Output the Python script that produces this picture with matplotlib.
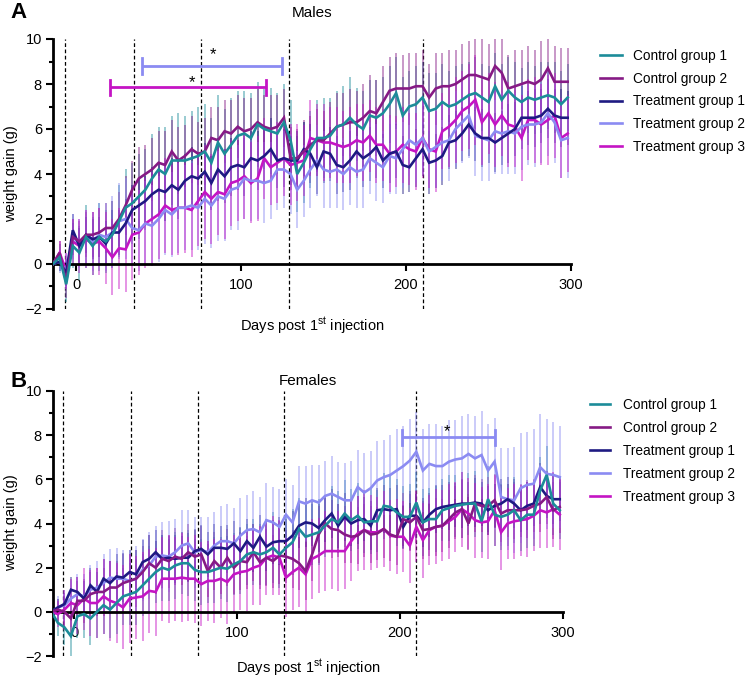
import numpy as np
import matplotlib
matplotlib.use("Agg")
import matplotlib.pyplot as plt
from matplotlib.lines import Line2D

plt.rcParams['font.family'] = ['Liberation Sans', 'DejaVu Sans']
plt.rcParams['mathtext.fontset'] = 'custom'
plt.rcParams['mathtext.rm'] = 'Liberation Sans'
plt.rcParams['mathtext.it'] = 'Liberation Sans:italic'
plt.rcParams['mathtext.bf'] = 'Liberation Sans:bold'

# ---------------- data ----------------
days = [-14, -10, -6, -2, 2, 6, 10, 14, 18, 22,
        26, 30, 34, 38, 42, 46, 50, 54, 58, 62,
        66, 70, 74, 78, 82, 86, 90, 94, 98, 102,
        106, 110, 114, 118, 122, 126, 130, 134, 138, 142,
        146, 150, 154, 158, 162, 166, 170, 174, 178, 182,
        186, 190, 194, 198, 202, 206, 210, 214, 218, 222,
        226, 230, 234, 238, 242, 246, 250, 254, 258, 262,
        266, 270, 274, 278, 282, 286, 290, 294, 298]

groups = ["Control group 1", "Control group 2", "Treatment group 1",
          "Treatment group 2", "Treatment group 3"]
colors = ["#1C8C99", "#861A85", "#1E1A82", "#8B8BF2", "#C414C4"]
injection_days = [-7, 35, 76, 129, 210]

# Males (panel A)
males_c1 = [0, 0.3, -0.9, 0.8, 0.5, 1.2, 0.8, 1.2, 1.0, 1.3,
            1.9, 2.5, 2.7, 3.0, 3.3, 3.8, 4.2, 4.0, 4.6, 4.6,
            4.6, 4.7, 4.8, 5.0, 4.5, 5.4, 4.9, 5.3, 5.7, 5.8,
            5.6, 6.2, 6.0, 5.9, 5.8, 6.3, 5.5, 4.0, 4.5, 5.1,
            5.6, 5.6, 5.7, 6.1, 6.2, 6.5, 6.2, 6.0, 6.6, 6.5,
            6.7, 7.1, 7.6, 6.6, 7.0, 7.1, 7.4, 6.8, 6.9, 7.2,
            7.0, 7.1, 7.3, 7.5, 7.6, 7.4, 7.2, 7.9, 7.3, 7.7,
            7.4, 7.2, 7.4, 7.3, 7.4, 7.5, 7.4, 7.1, 7.4]
males_c2 = [0, 0.5, -0.8, 1.2, 1.0, 1.3, 1.3, 1.4, 1.6, 1.6,
            2.0, 2.6, 3.3, 3.8, 4.0, 4.2, 4.5, 4.4, 5.0, 4.6,
            4.8, 5.1, 4.9, 5.0, 5.6, 5.5, 5.9, 5.8, 6.1, 5.9,
            6.0, 6.3, 6.1, 6.0, 6.1, 6.5, 4.7, 4.7, 5.0, 5.3,
            5.5, 5.5, 5.8, 6.1, 6.2, 6.3, 6.3, 6.5, 6.8, 6.7,
            7.2, 7.7, 7.8, 7.8, 7.8, 7.9, 7.9, 7.4, 7.8, 7.9,
            7.9, 8.0, 8.2, 8.4, 8.4, 8.3, 8.2, 8.8, 8.5, 7.8,
            7.9, 8.0, 8.1, 8.0, 8.2, 8.7, 8.1, 8.1, 8.1]
males_t1 = [0, 0.1, -0.4, 1.5, 0.8, 1.3, 1.1, 1.2, 0.9, 1.4,
            1.4, 1.8, 2.4, 2.6, 2.8, 3.1, 3.3, 3.2, 3.5, 3.3,
            3.7, 3.9, 3.8, 4.1, 3.6, 4.2, 3.9, 4.3, 4.4, 4.3,
            4.7, 4.6, 4.8, 5.1, 4.6, 4.7, 4.6, 4.6, 5.1, 4.9,
            4.3, 5.0, 4.9, 4.4, 4.3, 4.6, 5.0, 4.7, 4.9, 5.2,
            4.6, 4.9, 5.0, 4.4, 4.3, 4.7, 5.1, 4.5, 4.6, 4.8,
            5.4, 5.5, 5.8, 6.2, 5.8, 5.6, 5.6, 5.4, 5.6, 5.8,
            6.0, 6.5, 6.5, 6.5, 6.6, 6.9, 6.6, 6.5, 6.5]
males_t2 = [0, 0.1, -0.3, 1.2, 0.9, 1.2, 1.0, 1.3, 1.2, 1.4,
            1.9, 2.0, 1.6, 1.5, 1.8, 1.7, 2.0, 2.4, 2.2, 2.5,
            2.5, 2.6, 2.5, 2.9, 2.6, 3.0, 2.9, 3.3, 3.4, 3.8,
            3.7, 3.7, 3.6, 3.7, 4.2, 4.2, 4.0, 3.3, 3.7, 4.2,
            4.6, 4.2, 4.1, 4.2, 4.0, 4.3, 4.1, 4.2, 4.7, 4.5,
            4.3, 4.8, 4.7, 5.1, 5.5, 5.3, 5.6, 5.0, 5.2, 5.4,
            5.5, 6.0, 6.3, 6.6, 5.7, 5.6, 5.5, 5.9, 5.8, 5.9,
            5.8, 6.1, 6.2, 6.2, 6.3, 6.7, 6.3, 5.5, 5.6]
males_t3 = [0, 0.5, -0.3, 1.0, 0.8, 1.1, 0.9, 1.0, 0.7, 0.3,
            0.7, 0.65, 1.3, 1.4, 1.8, 2.0, 2.2, 2.6, 2.4, 2.5,
            2.5, 2.4, 2.8, 3.2, 2.9, 3.2, 3.1, 3.6, 3.7, 3.9,
            3.6, 3.8, 4.7, 4.3, 4.5, 4.7, 4.4, 4.5, 4.6, 5.6,
            5.5, 5.4, 5.4, 5.3, 5.2, 5.3, 5.5, 5.4, 5.7, 5.3,
            5.3, 4.9, 5.0, 5.3, 5.1, 5.0, 5.6, 5.1, 5.0, 5.9,
            6.1, 6.4, 6.8, 7.0, 7.3, 6.3, 6.7, 6.2, 6.6, 6.2,
            6.1, 5.6, 6.4, 6.4, 6.2, 6.4, 6.6, 5.6, 5.8]

males_c1_err = [0.3, 0.6, 0.8, 1.0, 1.2, 1.4, 1.3, 1.5, 1.4, 1.5,
                1.6, 1.7, 1.8, 1.9, 1.8, 2.0, 1.9, 2.1, 2.0, 2.1,
                2.0, 2.1, 2.2, 2.1, 2.0, 2.1, 2.0, 2.1, 2.0, 1.9,
                2.0, 1.9, 1.8, 1.9, 1.8, 1.7, 1.8, 1.7, 1.8, 1.7,
                1.7, 1.8, 1.7, 1.6, 1.7, 1.8, 1.6, 1.7, 1.6, 1.7,
                1.6, 1.7, 1.6, 1.7, 1.6, 1.7, 1.6, 1.7, 1.6, 1.7,
                1.6, 1.7, 1.6, 1.5, 1.6, 1.5, 1.6, 1.5, 1.6, 1.5,
                1.6, 1.5, 1.6, 1.5, 1.6, 1.5, 1.6, 1.5, 1.5]
males_c2_err = [0.3, 0.5, 0.7, 0.8, 0.9, 1.0, 1.0, 1.1, 1.1, 1.2,
                1.2, 1.3, 1.3, 1.4, 1.3, 1.4, 1.4, 1.5, 1.4, 1.5,
                1.4, 1.5, 1.4, 1.5, 1.4, 1.5, 1.4, 1.5, 1.4, 1.5,
                1.4, 1.5, 1.4, 1.5, 1.4, 1.3, 1.4, 1.3, 1.4, 1.3,
                1.4, 1.3, 1.4, 1.5, 1.4, 1.5, 1.4, 1.5, 1.6, 1.5,
                1.6, 1.5, 1.6, 1.5, 1.6, 1.5, 1.6, 1.5, 1.6, 1.5,
                1.6, 1.5, 1.6, 1.5, 1.6, 1.7, 1.6, 1.5, 1.6, 1.5,
                1.6, 1.5, 1.6, 1.5, 1.7, 1.3, 1.6, 1.5, 1.5]
males_t1_err = [0.3, 0.4, 0.6, 0.7, 0.8, 0.8, 0.9, 0.9, 1.0, 1.0,
                1.0, 1.1, 1.1, 1.2, 1.1, 1.2, 1.2, 1.3, 1.2, 1.3,
                1.2, 1.3, 1.1, 1.3, 1.2, 1.4, 1.2, 1.3, 1.1, 1.3,
                1.2, 1.3, 1.2, 1.4, 1.2, 1.3, 1.1, 1.3, 1.2, 1.3,
                1.2, 1.4, 1.2, 1.3, 1.1, 1.3, 1.2, 1.3, 1.2, 1.4,
                1.2, 1.3, 1.2, 1.3, 1.1, 1.3, 1.2, 1.4, 1.2, 1.3,
                1.2, 1.3, 1.2, 1.4, 1.2, 1.3, 1.1, 1.3, 1.2, 1.3,
                1.2, 1.4, 1.2, 1.3, 1.2, 1.3, 1.2, 1.3, 1.2]
males_t2_err = [0.3, 0.5, 0.8, 1.0, 1.1, 1.2, 1.3, 1.4, 1.5, 1.6,
                1.7, 1.8, 1.7, 1.8, 1.9, 1.8, 1.9, 2.0, 1.9, 2.0,
                1.9, 2.0, 1.9, 2.0, 1.9, 2.0, 1.9, 1.8, 1.9, 1.8,
                1.8, 1.7, 1.8, 1.7, 1.8, 1.7, 1.8, 1.7, 1.6, 1.7,
                1.6, 1.7, 1.6, 1.7, 1.6, 1.7, 1.6, 1.7, 1.6, 1.7,
                1.6, 1.7, 1.6, 1.7, 1.6, 1.7, 1.6, 1.7, 1.8, 1.7,
                1.8, 1.7, 1.8, 1.9, 1.8, 1.9, 1.8, 1.9, 1.8, 1.9,
                1.8, 1.9, 1.8, 1.9, 1.8, 1.9, 1.8, 1.7, 1.8]
males_t3_err = [0.3, 0.5, 0.8, 1.0, 1.2, 1.3, 1.4, 1.5, 1.6, 1.7,
                1.8, 1.9, 2.0, 1.9, 2.0, 2.1, 2.0, 2.1, 2.0, 2.1,
                2.0, 2.1, 2.0, 2.1, 2.0, 1.9, 2.0, 1.9, 1.8, 1.9,
                1.8, 1.9, 1.8, 1.7, 1.8, 1.7, 1.8, 1.7, 1.6, 1.7,
                1.6, 1.7, 1.6, 1.7, 1.6, 1.7, 1.6, 1.7, 1.6, 1.7,
                1.6, 1.7, 1.6, 1.7, 1.6, 1.7, 1.8, 1.7, 1.8, 1.7,
                1.8, 1.9, 1.8, 1.9, 2.0, 1.9, 1.8, 1.9, 1.8, 1.9,
                1.8, 1.9, 1.8, 1.9, 1.8, 2.0, 1.9, 1.8, 1.7]

# Females (panel B)
females_c1 = [0, -0.5, -0.7, -1.1, -0.2, -0.1, -0.3, 0.0, 0.3, 0.1,
              0.4, 0.7, 0.8, 0.9, 1.2, 1.5, 1.8, 2.0, 1.9, 2.1,
              2.2, 2.2, 1.9, 1.8, 1.8, 1.9, 2.0, 1.95, 2.15, 2.3,
              2.6, 2.7, 2.6, 2.7, 2.9, 2.6, 2.9, 3.15, 3.75, 3.4,
              3.5, 3.6, 3.9, 4.2, 4.05, 4.45, 4.15, 4.35, 4.05, 4.1,
              4.1, 4.8, 4.75, 4.5, 4.3, 4.3, 4.95, 4.05, 4.2, 4.2,
              4.6, 4.7, 4.8, 4.85, 4.9, 4.9, 4.1, 5.1, 4.4, 4.3,
              4.4, 4.6, 4.15, 4.4, 4.4, 5.5, 6.2, 4.9, 4.6]
females_c2 = [0, 0.1, 0.0, -0.3, 0.5, 0.5, 0.8, 0.9, 0.9, 1.1,
              1.1, 1.3, 1.4, 1.5, 1.8, 2.2, 2.0, 2.4, 2.3, 2.5,
              2.4, 2.7, 2.5, 2.6, 1.85, 2.3, 2.0, 2.45, 2.0, 2.3,
              2.25, 2.7, 2.25, 2.45, 2.3, 2.55, 2.5, 2.4, 2.2, 1.85,
              2.6, 3.5, 4.0, 3.75, 3.7, 3.5, 3.4, 3.45, 3.7, 3.5,
              3.55, 3.75, 3.5, 3.4, 4.2, 4.05, 4.3, 3.7, 3.75, 3.85,
              3.9, 4.2, 4.5, 4.65, 4.0, 4.9, 4.8, 4.8, 5.05, 4.45,
              4.6, 4.6, 4.6, 4.65, 4.8, 4.9, 5.2, 4.6, 4.75]
females_t1 = [0, 0.2, 0.35, 1.0, 0.9, 0.6, 1.2, 0.9, 1.5, 1.3,
              1.6, 1.55, 1.8, 1.7, 2.25, 2.4, 2.7, 2.4, 2.45, 2.4,
              2.45, 2.45, 2.75, 2.85, 2.6, 2.9, 2.9, 2.85, 3.1, 2.75,
              3.2, 2.9, 3.4, 2.95, 3.15, 3.2, 3.2, 3.45, 3.9, 4.05,
              4.0, 3.8, 4.15, 4.45, 3.9, 4.3, 4.0, 4.15, 4.2, 3.9,
              4.6, 4.65, 4.6, 4.65, 3.85, 4.35, 4.35, 4.05, 4.4, 4.65,
              4.75, 4.8, 4.85, 4.9, 4.9, 4.95, 4.9, 4.6, 4.8, 4.9,
              5.1, 4.9, 4.6, 4.8, 4.9, 5.65, 5.25, 5.1, 5.1]
females_t2 = [0, 0.2, 0.3, 0.6, 0.8, 0.7, 1.0, 1.1, 1.3, 1.55,
              1.5, 1.5, 1.4, 1.5, 1.9, 2.1, 2.5, 2.55, 2.5, 2.7,
              3.0, 3.1, 2.7, 2.8, 2.7, 3.0, 3.2, 3.2, 3.1, 3.45,
              3.7, 3.75, 3.6, 4.15, 4.05, 3.85, 4.4, 4.05, 5.0, 4.9,
              5.05, 4.95, 5.25, 5.35, 5.2, 5.05, 5.05, 5.65, 5.4, 5.6,
              5.95, 6.1, 6.2, 6.4, 6.6, 6.85, 7.25, 6.4, 6.7, 6.6,
              6.6, 6.8, 6.9, 6.95, 7.15, 6.95, 7.1, 6.4, 6.8, 5.2,
              5.1, 5.05, 5.6, 5.75, 5.8, 6.55, 6.25, 6.2, 6.1]
females_t3 = [0, -0.1, 0.1, 0.4, 0.3, 0.6, 0.4, 0.4, 0.7, 0.5,
              0.4, 0.2, 0.6, 0.65, 0.7, 0.95, 0.9, 1.5, 1.5, 1.5,
              1.55, 1.5, 1.5, 1.25, 1.4, 1.4, 1.5, 1.35, 1.7, 1.8,
              1.85, 2.0, 2.1, 2.45, 2.55, 2.45, 1.55, 1.8, 2.0, 1.7,
              2.4, 2.55, 2.75, 2.75, 2.75, 2.75, 3.2, 3.55, 3.7, 3.6,
              3.6, 3.75, 3.45, 3.4, 3.4, 3.0, 3.85, 3.25, 3.7, 3.85,
              3.9, 4.1, 4.3, 4.65, 4.45, 4.15, 4.05, 4.1, 4.6, 3.6,
              4.0, 4.1, 4.15, 4.2, 4.35, 4.6, 4.5, 4.65, 4.4]

females_c1_err = [0.3, 0.6, 0.8, 0.9, 1.0, 1.1, 1.2, 1.2, 1.3, 1.3,
                  1.4, 1.3, 1.4, 1.5, 1.4, 1.5, 1.4, 1.5, 1.4, 1.5,
                  1.4, 1.5, 1.4, 1.5, 1.4, 1.5, 1.4, 1.5, 1.4, 1.5,
                  1.4, 1.5, 1.4, 1.5, 1.6, 1.5, 1.4, 1.5, 1.4, 1.5,
                  1.4, 1.5, 1.4, 1.5, 1.4, 1.5, 1.4, 1.5, 1.4, 1.5,
                  1.4, 1.5, 1.4, 1.5, 1.4, 1.5, 1.4, 1.5, 1.4, 1.5,
                  1.4, 1.5, 1.4, 1.5, 1.4, 1.5, 1.4, 1.5, 1.4, 1.5,
                  1.4, 1.5, 1.4, 1.5, 1.4, 1.5, 1.3, 1.4, 1.3]
females_c2_err = [0.3, 0.5, 0.7, 0.8, 0.9, 1.0, 1.0, 1.1, 1.1, 1.2,
                  1.2, 1.3, 1.2, 1.3, 1.2, 1.3, 1.2, 1.3, 1.2, 1.3,
                  1.2, 1.3, 1.2, 1.3, 1.2, 1.3, 1.2, 1.3, 1.2, 1.3,
                  1.2, 1.3, 1.2, 1.3, 1.2, 1.3, 1.2, 1.3, 1.2, 1.3,
                  1.2, 1.3, 1.2, 1.3, 1.2, 1.3, 1.2, 1.3, 1.2, 1.3,
                  1.2, 1.3, 1.2, 1.3, 1.2, 1.3, 1.2, 1.3, 1.2, 1.3,
                  1.2, 1.3, 1.2, 1.3, 1.2, 1.3, 1.2, 1.3, 1.2, 1.3,
                  1.2, 1.3, 1.2, 1.3, 1.2, 1.3, 1.2, 1.3, 1.2]
females_t1_err = [0.3, 0.4, 0.5, 0.6, 0.7, 0.8, 0.8, 0.9, 0.9, 1.0,
                  1.0, 1.1, 1.0, 1.1, 1.0, 1.1, 1.0, 1.1, 1.0, 1.1,
                  1.0, 1.1, 1.0, 1.1, 1.0, 1.1, 1.0, 1.1, 1.0, 1.1,
                  1.0, 1.1, 1.0, 1.1, 1.0, 1.1, 1.0, 1.1, 1.0, 1.1,
                  1.0, 1.1, 1.0, 1.1, 1.0, 1.1, 1.0, 1.1, 1.0, 1.1,
                  1.0, 1.1, 1.0, 1.1, 1.0, 1.1, 1.0, 1.1, 1.0, 1.1,
                  1.0, 1.1, 1.0, 1.1, 1.0, 1.1, 1.0, 1.1, 1.0, 1.1,
                  1.0, 1.1, 1.0, 1.1, 1.0, 1.1, 1.0, 1.1, 1.0]
females_t2_err = [0.3, 0.5, 0.7, 0.8, 0.9, 1.0, 1.1, 1.2, 1.3, 1.3,
                  1.4, 1.3, 1.4, 1.5, 1.4, 1.5, 1.4, 1.5, 1.6, 1.5,
                  1.6, 1.5, 1.6, 1.5, 1.6, 1.5, 1.6, 1.7, 1.6, 1.7,
                  1.6, 1.7, 1.6, 1.7, 1.6, 1.7, 1.6, 1.7, 1.6, 1.7,
                  1.6, 1.7, 1.6, 1.7, 1.6, 1.7, 1.8, 1.7, 1.8, 1.7,
                  1.8, 1.7, 1.8, 1.9, 1.8, 1.9, 1.8, 1.9, 1.8, 1.9,
                  1.8, 1.9, 1.8, 1.9, 1.8, 1.9, 2.0, 2.1, 2.0, 2.2,
                  2.3, 2.4, 2.5, 2.4, 2.5, 2.4, 2.5, 2.4, 2.3]
females_t3_err = [0.3, 0.6, 0.9, 1.1, 1.3, 1.4, 1.5, 1.6, 1.7, 1.8,
                  1.8, 1.9, 2.0, 1.9, 2.0, 1.9, 2.0, 1.9, 2.0, 1.9,
                  2.0, 1.9, 2.0, 1.9, 1.8, 1.9, 1.8, 1.9, 1.8, 1.7,
                  1.8, 1.7, 1.8, 1.7, 1.8, 1.7, 1.8, 1.7, 1.8, 1.7,
                  1.8, 1.7, 1.8, 1.7, 1.8, 1.7, 1.8, 1.7, 1.8, 1.7,
                  1.6, 1.7, 1.6, 1.7, 1.6, 1.7, 1.6, 1.7, 1.6, 1.7,
                  1.6, 1.7, 1.6, 1.7, 1.6, 1.7, 1.6, 1.7, 1.6, 1.7,
                  1.6, 1.7, 1.6, 1.7, 1.6, 1.7, 1.6, 1.7, 1.6]

males = [males_c1, males_c2, males_t1, males_t2, males_t3]
males_err = [males_c1_err, males_c2_err, males_t1_err, males_t2_err, males_t3_err]
females = [females_c1, females_c2, females_t1, females_t2, females_t3]
females_err = [females_c1_err, females_c2_err, females_t1_err, females_t2_err, females_t3_err]

# significance brackets: (start day, end day, level, colour index, star day, star level)
sig_males = [(40, 125, 8.8, 3, 83, 9.3), (20.6, 115, 7.85, 4, 70, 8.05)]
sig_females = [(201, 258, 7.9, 3, 229, 8.15)]

# ---------------- figure ----------------
W, H = 749, 678
fig = plt.figure(figsize=(W / 100, H / 100), dpi=100)


def px_axes(x0, y_top, x1, y_bot):
    return fig.add_axes([x0 / W, 1 - y_bot / H, (x1 - x0) / W, (y_bot - y_top) / H])


def style_axes(ax, xmin):
    ax.set_xlim(xmin, 300)
    ax.set_ylim(-2, 10)
    ax.spines['top'].set_visible(False)
    ax.spines['right'].set_visible(False)
    ax.spines['left'].set_linewidth(2)
    ax.spines['bottom'].set_linewidth(2)
    ax.spines['bottom'].set_position(('data', 0))
    ax.set_yticks([-2, 0, 2, 4, 6, 8, 10])
    ax.set_yticks([-1, 1, 3, 5, 7, 9], minor=True)
    ax.set_xticks([0, 100, 200, 300])
    ax.tick_params(axis='both', which='major', length=5, width=1.5, labelsize=10.5, pad=3)
    ax.tick_params(axis='y', which='minor', length=3, width=1.5)
    ax.tick_params(axis='x', pad=5)
    for d in injection_days:
        ax.axvline(d, color='black', lw=0.9, ls=(0, (3, 2)), zorder=1)


def draw_panel(ax, series, errs, sigs):
    for vals, err, col in zip(series, errs, colors):
        ax.errorbar(days, vals, yerr=err, fmt='none', ecolor=col, alpha=0.45,
                    elinewidth=1.4, capsize=0, zorder=2)
    for vals, col in list(zip(series, colors))[::-1]:
        ax.plot(days, vals, color=col, lw=1.9, zorder=3, solid_joinstyle='miter')
    for (x0, x1, yv, ci, sx, sy) in sigs:
        col = colors[ci]
        ax.plot([x0, x1], [yv, yv], color=col, lw=2, zorder=4, solid_capstyle='butt')
        ax.plot([x0, x0], [yv - 0.35, yv + 0.35], color=col, lw=2, zorder=4)
        ax.plot([x1, x1], [yv - 0.35, yv + 0.35], color=col, lw=2, zorder=4)
        ax.text(sx, sy, '*', ha='center', va='center', fontsize=12, zorder=5)


# Panel A
axA = px_axes(53, 39, 571, 309)
style_axes(axA, -14)
draw_panel(axA, males, males_err, sig_males)

# Panel B
axB = px_axes(53, 391, 563, 656)
style_axes(axB, -13)
draw_panel(axB, females, females_err, sig_females)

# Text
fig.text(10 / W, 1 - 13 / H, 'A', fontsize=16, fontweight='bold', ha='left', va='center')
fig.text(10 / W, 1 - 382 / H, 'B', fontsize=16, fontweight='bold', ha='left', va='center')
fig.text(312 / W, 1 - 13 / H, 'Males', fontsize=11, ha='center', va='center')
fig.text(308 / W, 1 - 381 / H, 'Females', fontsize=11, ha='center', va='center')
fig.text(11 / W, 1 - 174 / H, 'weight gain (g)', fontsize=10.5, rotation=90, ha='center', va='center')
fig.text(11 / W, 1 - 523 / H, 'weight gain (g)', fontsize=10.5, rotation=90, ha='center', va='center')
fig.text(312 / W, 1 - 326 / H, r'Days post 1$^{\rm st}$ injection', fontsize=10.5, ha='center', va='center')
fig.text(308 / W, 1 - 668 / H, r'Days post 1$^{\rm st}$ injection', fontsize=10.5, ha='center', va='center')

# Legends
handles = [Line2D([0], [0], color=c, lw=1.9) for c in colors]
axA.legend(handles, groups, loc='upper left', bbox_to_anchor=(600 / W, 1 - 49 / H),
           bbox_transform=fig.transFigure, frameon=False, fontsize=9.8,
           handlelength=1.62, handletextpad=0.8, labelspacing=0.64,
           borderpad=0, borderaxespad=0)
axB.legend(handles, groups, loc='upper left', bbox_to_anchor=(590 / W, 1 - 398 / H),
           bbox_transform=fig.transFigure, frameon=False, fontsize=9.8,
           handlelength=1.5, handletextpad=0.95, labelspacing=0.66,
           borderpad=0, borderaxespad=0)

fig.savefig('out.png', dpi=100)
